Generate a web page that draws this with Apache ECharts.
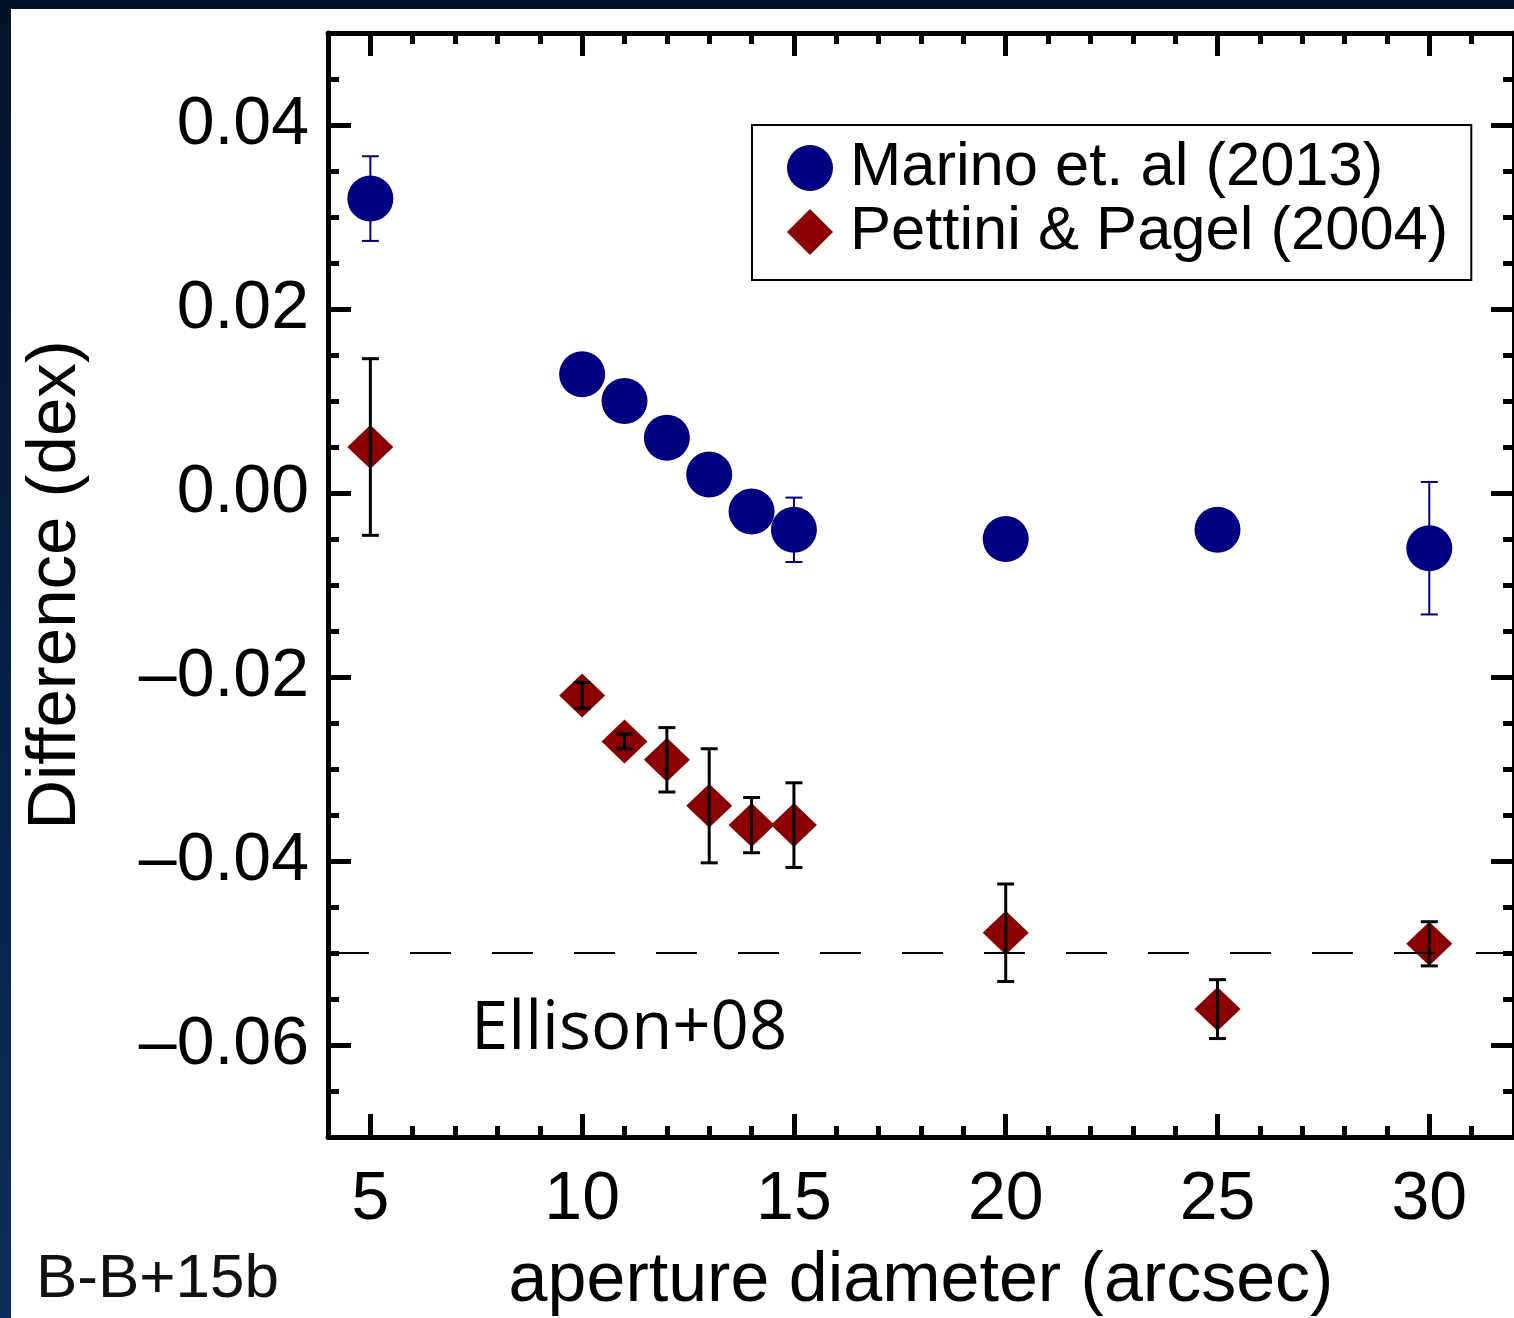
<!DOCTYPE html>
<html>
<head>
<meta charset="utf-8">
<script src="https://cdn.jsdelivr.net/npm/echarts@6/dist/echarts.min.js"></script>
<style>
  html, body { margin: 0; padding: 0; }
  #frame { position: absolute; left: 0; top: 0; width: 1514px; height: 1318px;
           background: linear-gradient(180deg, #021229 0%, #06224a 60%, #0b2f5c 100%); overflow: hidden; }
  #chart { position: absolute; left: 11px; top: 9px; width: 1503px; height: 1309px; background: #ffffff; }
</style>
</head>
<body>
<div id="frame"><div id="chart"></div></div>
<script>
// ---- data ----
const apertures   = [5, 10, 11, 12, 13, 14, 15, 20, 25, 30];
const marinoDiff  = [0.032, 0.0129, 0.0100, 0.0060, 0.0020, -0.0020, -0.0040, -0.0050, -0.0040, -0.0060];
const marinoErr   = [0.0046, null, null, null, null, null, 0.0035, null, null, 0.0072];
const pettiniDiff = [0.005, -0.0220, -0.0270, -0.0290, -0.0340, -0.0361, -0.0361, -0.0478, -0.0561, -0.0490];
const pettiniErr  = [0.0096, 0.0014, 0.0008, 0.0035, 0.0062, 0.0030, 0.0046, 0.0053, 0.0032, 0.0024];
const xMajorTicks = [5, 10, 15, 20, 25, 30];
const yMajorTicks = [-0.06, -0.04, -0.02, 0.00, 0.02, 0.04];
const ellisonLevel = -0.05;
const seriesNames = ['Marino et. al (2013)', 'Pettini & Pagel (2004)'];

// ---- build ----
const marinoPts  = apertures.map((x, i) => [x, marinoDiff[i]]);
const pettiniPts = apertures.map((x, i) => [x, pettiniDiff[i]]);
const marinoErrPts  = apertures.map((x, i) => [x, marinoDiff[i], marinoErr[i]]).filter(d => d[2] != null);
const pettiniErrPts = apertures.map((x, i) => [x, pettiniDiff[i], pettiniErr[i]]).filter(d => d[2] != null);

const FONT = '"Liberation Sans", Arial, Helvetica, sans-serif';
const GRID = { left: 317, top: 24, width: 1186, height: 1104, containLabel: false, outerBoundsMode: 'none' };

function errRender(color, lw, cap) {
  return function (params, api) {
    const x = api.value(0), y = api.value(1), e = api.value(2);
    const top = api.coord([x, y + e]);
    const bot = api.coord([x, y - e]);
    const st = { stroke: color, lineWidth: lw };
    return {
      type: 'group',
      children: [
        { type: 'line', shape: { x1: top[0], y1: top[1], x2: bot[0], y2: bot[1] }, style: st },
        { type: 'line', shape: { x1: top[0] - cap / 2, y1: top[1], x2: top[0] + cap / 2, y2: top[1] }, style: st },
        { type: 'line', shape: { x1: bot[0] - cap / 2, y1: bot[1], x2: bot[0] + cap / 2, y2: bot[1] }, style: st }
      ]
    };
  };
}

const lineStyle = { color: '#000', width: 5 };
function xAxisDef(pos, major, labels) {
  return {
    type: 'value', position: pos, min: 4, max: 32,
    interval: major ? undefined : 1,
    axisLine: { show: major, onZero: false, lineStyle: lineStyle },
    axisTick: major ? { show: true, inside: true, length: 23, customValues: xMajorTicks, lineStyle: { color: '#000', width: 5 } }
                    : { show: true, inside: true, length: 11, lineStyle: { color: '#000', width: 5 } },
    axisLabel: labels ? { show: true, customValues: xMajorTicks, margin: 29, fontSize: 68, color: '#000', fontFamily: FONT }
                      : { show: false },
    splitLine: { show: false }
  };
}
function yAxisDef(pos, major, labels) {
  return {
    type: 'value', position: pos, min: -0.07, max: 0.05,
    interval: major ? undefined : 0.005,
    axisLine: { show: major, onZero: false, lineStyle: lineStyle },
    axisTick: major ? { show: true, inside: true, length: 23, customValues: yMajorTicks, lineStyle: { color: '#000', width: 5 } }
                    : { show: true, inside: true, length: 11, lineStyle: { color: '#000', width: 5 } },
    axisLabel: labels ? { show: true, customValues: yMajorTicks, margin: 19, fontSize: 68, color: '#000', fontFamily: FONT,
                          formatter: v => (v < 0 ? '\u2013' : '') + Math.abs(v).toFixed(2) }
                      : { show: false },
    splitLine: { show: false }
  };
}

const xAxes = [xAxisDef('bottom', true, true), xAxisDef('bottom', false, false), xAxisDef('top', true, false), xAxisDef('top', false, false)];
xAxes[0].name = 'aperture diameter (arcsec)';
xAxes[0].nameLocation = 'middle';
xAxes[0].nameGap = 110;
xAxes[0].nameTextStyle = { fontSize: 70, color: '#000', fontFamily: FONT };
const yAxes = [yAxisDef('left', true, true), yAxisDef('left', false, false), yAxisDef('right', true, false), yAxisDef('right', false, false)];
yAxes[0].name = 'Difference (dex)';
yAxes[0].nameLocation = 'middle';
yAxes[0].nameGap = 238;
yAxes[0].nameTextStyle = { fontSize: 69, color: '#000', fontFamily: FONT };

const chart = echarts.init(document.getElementById('chart'), null, { renderer: 'canvas' });
chart.setOption({
  animation: false,
  backgroundColor: '#ffffff',
  grid: GRID,
  xAxis: xAxes,
  yAxis: yAxes,
  legend: {
    left: 741, top: 116, orient: 'vertical',
    data: [{ name: seriesNames[0], icon: 'circle' }, { name: seriesNames[1], icon: 'diamond' }],
    itemWidth: 46, itemHeight: 46, itemGap: 2,
    padding: [12, 23, 17, 35],
    borderColor: '#000', borderWidth: 2, backgroundColor: '#fff',
    textStyle: { fontSize: 61.5, lineHeight: 61, color: '#000', fontFamily: FONT, padding: [0, 0, 0, 12] }
  },
  graphic: [
    { type: 'text', left: 25, top: 1240, style: { text: 'B-B+15b', fontSize: 62, fill: '#111', fontFamily: FONT } },
    { type: 'text', left: 460, top: 987, style: { text: 'Ellison+08', fontSize: 67, fill: '#000', fontFamily: '"Open Sans", sans-serif' } }
  ],
  series: [
    { type: 'custom', name: 'marinoErr', renderItem: errRender('#000080', 2, 17), data: marinoErrPts, z: 1, silent: true },
    { type: 'scatter', name: seriesNames[0], data: marinoPts, symbol: 'circle', symbolSize: 46,
      itemStyle: { color: '#000080', opacity: 1 }, z: 2 },
    { type: 'scatter', name: seriesNames[1], data: pettiniPts, symbol: 'diamond', symbolSize: [46, 44],
      itemStyle: { color: '#8b0000', opacity: 1 }, z: 3 },
    { type: 'custom', name: 'pettiniErr', renderItem: errRender('#000', 3, 17), data: pettiniErrPts, z: 4, silent: true },
    { type: 'scatter', name: 'ellison', data: [], z: 10, silent: true,
      markLine: { silent: true, symbol: ['none', 'none'], label: { show: false },
        lineStyle: { color: '#000', width: 2, type: [41, 41] },
        data: [{ yAxis: ellisonLevel }] } }
  ]
});
</script>
</body>
</html>
